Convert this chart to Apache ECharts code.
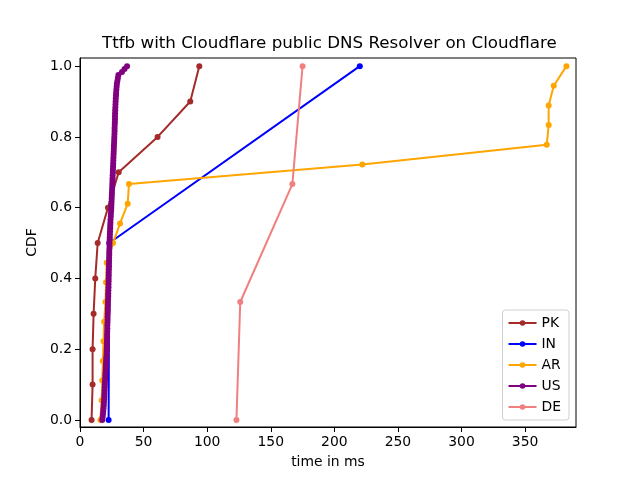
<!DOCTYPE html>
<html>
<head>
<meta charset="utf-8">
<script src="https://cdn.jsdelivr.net/npm/echarts@6/dist/echarts.min.js"></script>
<style>html,body{margin:0;padding:0;background:#fff}#c{width:640px;height:480px}</style>
</head>
<body>
<div id="c"></div>
<script>
// Sorted ttfb samples (ms) per country
const pkX = [9.1, 9.9, 9.9, 10.7, 12.0, 13.9, 22.0, 30.4, 61.0, 86.7, 93.8];
const inX = [22.5, 23.0, 220.0];
const arX = [16.0, 17.0, 17.5, 18.0, 18.5, 19.0, 20.0, 20.5, 21.0, 26.0, 31.5, 37.5, 38.5, 222.0, 367.0, 368.5, 368.5, 372.5, 382.5];
const usX = [17.5, 17.8, 18.1, 18.3, 18.5, 18.7, 18.8, 19.0, 19.1, 19.2, 19.3, 19.4, 19.5,
             19.6, 19.8, 19.9, 20.0, 20.2, 20.3, 20.4, 20.5, 20.6, 20.8, 20.9, 21.0,
             21.1, 21.1, 21.2, 21.3, 21.3, 21.4, 21.5, 21.5, 21.6, 21.7, 21.7, 21.8,
             21.9, 21.9, 22.0, 22.0, 22.1, 22.2, 22.2, 22.3, 22.4, 22.4, 22.5, 22.5,
             22.6, 22.6, 22.7, 22.8, 22.8, 22.9, 22.9, 23.0, 23.0, 23.1, 23.2, 23.2,
             23.3, 23.4, 23.5, 23.6, 23.7, 23.8, 23.9, 24.0, 24.2, 24.3, 24.5, 24.6,
             24.7, 24.8, 24.9, 25.0, 25.1, 25.2, 25.3, 25.4, 25.5, 25.6, 25.7, 25.8,
             25.9, 26.0, 26.1, 26.2, 26.3, 26.4, 26.5, 26.6, 26.7, 26.8, 26.9, 27.0,
             27.1, 27.2, 27.2, 27.3, 27.4, 27.5, 27.5, 27.6, 27.7, 27.8, 27.9, 28.0,
             28.1, 28.3, 28.4, 28.6, 28.8, 29.0,
             29.4, 29.8, 30.2, 33.0, 35.0, 37.0];
const deX = [123.0, 126.0, 167.0, 175.0];

const countries = ['PK', 'IN', 'AR', 'US', 'DE'];
const samples = [pkX, inX, arX, usX, deX];
const colors = ['#a52a2a', '#0000ff', '#ffa500', '#800080', '#f08080'];

const xTicks = [0, 50, 100, 150, 200, 250, 300, 350];
const yTicks = [0, 0.2, 0.4, 0.6, 0.8, 1.0];

// empirical CDF: i/(n-1) for sorted samples
function cdf(xs) { return xs.map((x, i) => [x, xs.length > 1 ? i / (xs.length - 1) : 1]); }

const FONT = 'DejaVu Sans';
const chart = echarts.init(document.getElementById('c'), null, {renderer: 'canvas'});
chart.setOption({
  animation: false,
  backgroundColor: '#fff',
  textStyle: {fontFamily: FONT},
  title: {
    text: 'Ttfb with Cloudflare public DNS Resolver on Cloudflare',
    left: 97, top: 30,
    textStyle: {fontFamily: FONT, fontSize: 16.7, fontWeight: 'normal', color: '#000'}
  },
  grid: {left: 80, right: 64, top: 58, bottom: 53, show: true, borderColor: '#000', borderWidth: 1, containLabel: false},
  legend: {
    orient: 'vertical', right: 71, bottom: 60,
    data: countries,
    itemWidth: 28, itemHeight: 7, itemGap: 7,
    padding: [6, 8, 6, 5],
    borderColor: '#d0d0d0', borderWidth: 1, borderRadius: 3,
    backgroundColor: 'rgba(255,255,255,0.8)',
    textStyle: {fontFamily: FONT, fontSize: 13.9, color: '#000'}
  },
  xAxis: {
    type: 'value', min: 0, max: 390,
    name: 'time in ms', nameLocation: 'middle', nameGap: 28,
    nameTextStyle: {fontFamily: FONT, fontSize: 13.9, color: '#000'},
    axisLine: {show: true, onZero: false, lineStyle: {color: '#000', width: 1}},
    axisTick: {show: true, length: 5, lineStyle: {color: '#000'}, customValues: xTicks},
    axisLabel: {color: '#000', fontFamily: FONT, fontSize: 13.9, margin: 8, customValues: xTicks},
    splitLine: {show: false}
  },
  yAxis: {
    type: 'value', min: -0.02, max: 1.023,
    name: 'CDF', nameLocation: 'middle', nameGap: 38,
    nameTextStyle: {fontFamily: FONT, fontSize: 13.9, color: '#000'},
    axisLine: {show: true, onZero: false, lineStyle: {color: '#000', width: 1}},
    axisTick: {show: true, length: 5, lineStyle: {color: '#000'}, customValues: yTicks},
    axisLabel: {color: '#000', fontFamily: FONT, fontSize: 13.9, margin: 8, customValues: yTicks,
                formatter: v => v.toFixed(1)},
    splitLine: {show: false}
  },
  series: countries.map((name, k) => ({
    name: name, type: 'line',
    data: cdf(samples[k]),
    symbol: 'circle', symbolSize: 6, showSymbol: true,
    lineStyle: {color: colors[k], width: 2},
    itemStyle: {color: colors[k]},
    clip: false
  }))
});
</script>
</body>
</html>
